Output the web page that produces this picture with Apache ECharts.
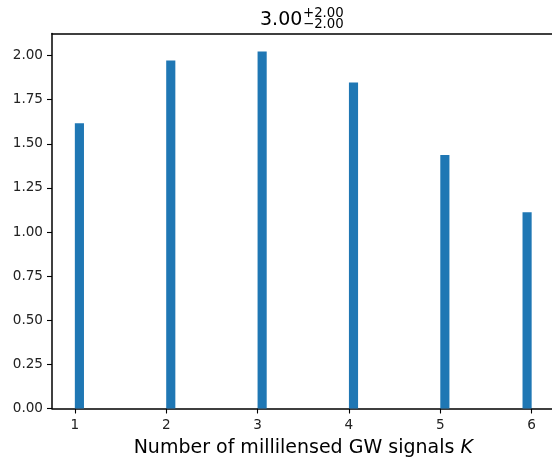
<!DOCTYPE html>
<html>
<head>
<meta charset="utf-8">
<script src="https://cdn.jsdelivr.net/npm/echarts@6/dist/echarts.min.js"></script>
<style>html,body{margin:0;padding:0;background:#fff}#c{width:552px;height:460px}</style>
</head>
<body>
<div id="c"></div>
<script>
// Data
const binStarts = [1, 2, 3, 4, 5, 5.9];
const densities = [1.616, 1.972, 2.023, 1.847, 1.436, 1.112];
const xTicks = [1, 2, 3, 4, 5, 6];
const yTicks = [0, 0.25, 0.5, 0.75, 1.0, 1.25, 1.5, 1.75, 2.0];
const titleMain = '3.00';
const titleUpper = '+2.00';
const titleLower = '\u22122.00';
const xLabel = 'Number of millilensed GW signals ';
const xLabelVar = 'K';

const binWidth = 0.1;
const FONT = 'DejaVu Sans';
const SPINE = 1.5;

const chart = echarts.init(document.getElementById('c'), null, {renderer: 'canvas'});
const seriesData = binStarts.map((x, i) => [x, densities[i]]);

chart.setOption({
  animation: false,
  backgroundColor: '#fff',
  grid: {
    left: 52, top: 33.5, right: -2.5, bottom: 51.5,
    outerBoundsMode: 'none', containLabel: false, show: false
  },
  xAxis: [{
    type: 'value', min: 0.75, max: 6.25, position: 'bottom',
    axisLine: {show: true, onZero: false, lineStyle: {color: '#000', width: SPINE}},
    axisTick: {show: true, length: 5, customValues: xTicks, lineStyle: {color: '#000', width: 1.1}},
    axisLabel: {customValues: xTicks, margin: 10, color: '#222', fontFamily: FONT, fontSize: 13.6,
      formatter: v => String(v)},
    splitLine: {show: false},
    name: xLabel + '{i|' + xLabelVar + '}',
    nameLocation: 'middle', nameGap: 30,
    nameTextStyle: {fontFamily: FONT, fontSize: 19, color: '#000',
      rich: {i: {fontFamily: FONT, fontSize: 19, fontStyle: 'italic', color: '#000'}}}
  }, {
    type: 'value', min: 0.75, max: 6.25, position: 'top',
    axisLine: {show: true, onZero: false, lineStyle: {color: '#000', width: SPINE}},
    axisTick: {show: false}, axisLabel: {show: false}, splitLine: {show: false}
  }],
  yAxis: {
    type: 'value', min: 0, max: 2.125,
    axisLine: {show: true, lineStyle: {color: '#000', width: SPINE}},
    axisTick: {show: true, length: 5, customValues: yTicks, lineStyle: {color: '#000', width: 1.1}},
    axisLabel: {customValues: yTicks, margin: 9, color: '#222', fontFamily: FONT, fontSize: 13.6,
      formatter: v => v.toFixed(2)},
    splitLine: {show: false}
  },
  graphic: [
    {type: 'text', x: 260, y: 20.4, style: {text: titleMain, fontFamily: FONT, fontSize: 19, fill: '#000', align: 'left', verticalAlign: 'middle'}},
    {type: 'text', x: 303, y: 13.4, style: {text: titleUpper, fontFamily: FONT, fontSize: 13.3, fill: '#000', align: 'left', verticalAlign: 'middle'}},
    {type: 'text', x: 303, y: 24.8, style: {text: titleLower, fontFamily: FONT, fontSize: 13.3, fill: '#000', align: 'left', verticalAlign: 'middle'}}
  ],
  series: [{
    type: 'custom',
    xAxisIndex: 0,
    data: seriesData,
    renderItem: function (params, api) {
      const x0 = api.value(0), h = api.value(1);
      const p0 = api.coord([x0, 0]);
      const p1 = api.coord([x0 + binWidth, h]);
      return {
        type: 'rect',
        shape: {x: p0[0], y: p1[1], width: p1[0] - p0[0], height: p0[1] - p1[1]},
        style: {fill: '#1f77b4'}
      };
    }
  }]
});
</script>
</body>
</html>
